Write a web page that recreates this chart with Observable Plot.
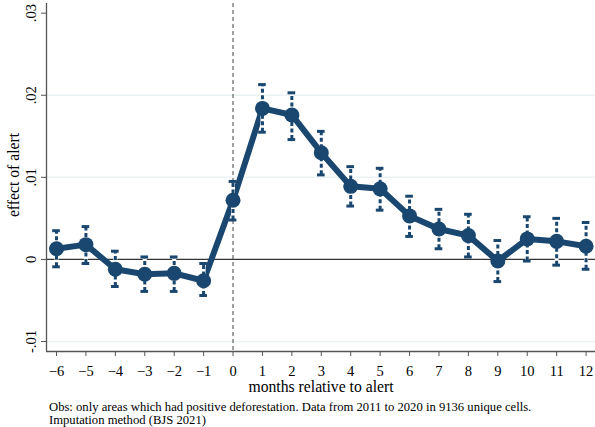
<!DOCTYPE html>
<html>
<head>
<meta charset="utf-8">
<script src="https://cdn.jsdelivr.net/npm/d3@7"></script>
<script src="https://cdn.jsdelivr.net/npm/@observablehq/plot@0.6"></script>
<style>
  body { margin: 0; background: #fff; }
  #chart svg { display: block; }
  .caption {
    font-family: "Liberation Serif", "Times New Roman", serif;
    font-size: 12.65px;
    line-height: 13px;
    color: #000;
    margin: 3px 0 0 49px;
  }
</style>
</head>
<body>
<div id="chart"></div>
<div class="caption">Obs: only areas which had positive deforestation. Data from 2011 to 2020 in 9136 unique cells.<br>Imputation method (BJS 2021)</div>
<script>
// Event-study estimates by month relative to the alert
const months = [-6, -5, -4, -3, -2, -1, 0, 1, 2, 3, 4, 5, 6, 7, 8, 9, 10, 11, 12];
const effect = [0.0013, 0.0018, -0.0012, -0.0018, -0.0017, -0.0026, 0.0072, 0.0184, 0.0176, 0.0130, 0.0089, 0.0086, 0.0053, 0.0037, 0.0029, -0.0002, 0.0025, 0.0022, 0.0016];
const ciLow  = [-0.0009, -0.0005, -0.0033, -0.0039, -0.0039, -0.0044, 0.0048, 0.0155, 0.0146, 0.0103, 0.0065, 0.0060, 0.0028, 0.0013, 0.0003, -0.0027, -0.0002, -0.0007, -0.0012];
const ciHigh = [0.0035, 0.0040, 0.0010, 0.0003, 0.0003, -0.0005, 0.0095, 0.0213, 0.0203, 0.0156, 0.0113, 0.0111, 0.0077, 0.0061, 0.0055, 0.0023, 0.0052, 0.0050, 0.0045];

const yTicks = [-0.01, 0, 0.01, 0.02, 0.03];
const yTickLabels = ["-.01", "0", ".01", ".02", ".03"];
const yGrid = [-0.01, 0.01, 0.02];

const rows = months.map((m, i) => ({m, est: effect[i], lo: ciLow[i], hi: ciHigh[i]}));

const navy = "#1a476f";
const serif = "'Liberation Serif', 'Times New Roman', serif";
const xDomain = [-6.34, 12.32];
const yDomain = [-0.01122, 0.03118];
const capHalf = 0.13;

const chart = Plot.plot({
  width: 595,
  height: 398,
  marginLeft: 46,
  marginRight: 0,
  marginTop: 3,
  marginBottom: 47,
  style: {fontFamily: serif, fontSize: "14px", color: "#000", background: "#fff"},
  x: {type: "linear", domain: xDomain, axis: null},
  y: {type: "linear", domain: yDomain, axis: null},
  marks: [
    Plot.ruleY(yGrid, {stroke: "#eaf2f3", strokeWidth: 1.5}),
    Plot.ruleY([0], {stroke: "#333", strokeWidth: 1.4}),
    Plot.ruleX([0], {stroke: "#444", strokeWidth: 1, strokeDasharray: "4,3"}),
    // estimate path
    Plot.line(rows, {x: "m", y: "est", stroke: navy, strokeWidth: 6, strokeLinejoin: "round"}),
    // confidence intervals: dashed spikes with caps
    Plot.ruleX(rows, {x: "m", y1: "lo", y2: "hi", stroke: "#fff", strokeWidth: 4}),
    Plot.ruleX(rows, {x: "m", y1: "lo", y2: "hi", stroke: navy, strokeWidth: 3, strokeDasharray: "4,2.5"}),
    Plot.ruleY(rows, {y: "hi", x1: d => d.m - capHalf, x2: d => d.m + capHalf, stroke: navy, strokeWidth: 3}),
    Plot.ruleY(rows, {y: "lo", x1: d => d.m - capHalf, x2: d => d.m + capHalf, stroke: navy, strokeWidth: 3}),
    Plot.dot(rows, {x: "m", y: "est", r: 7.5, fill: navy}),
    // axis lines
    Plot.ruleX([xDomain[0]], {stroke: "#555", strokeWidth: 1.3}),
    Plot.ruleY([yDomain[0]], {stroke: "#555", strokeWidth: 1.3}),
    // y axis
    Plot.axisY({ticks: yTicks, tickSize: 5, stroke: "#555", tickFormat: () => "", label: null}),
    Plot.text(yTicks, {x: xDomain[0], y: d => d, text: (d, i) => yTickLabels[i], rotate: -90, dx: -11, lineAnchor: "bottom", textAnchor: "middle", fontSize: 14.5}),
    Plot.text(["effect of alert"], {frameAnchor: "left", dx: -33, dy: -2.5, rotate: -90, textAnchor: "middle", lineAnchor: "middle", fontSize: 15.7}),
    // x axis
    Plot.axisX({ticks: months, tickSize: 5, tickPadding: 9, stroke: "#555", fontSize: 14.5, label: null}),
    Plot.text(["months relative to alert"], {frameAnchor: "bottom", dy: 35.7, textAnchor: "middle", lineAnchor: "middle", fontSize: 15.7})
  ]
});

document.getElementById("chart").append(chart);
</script>
</body>
</html>
